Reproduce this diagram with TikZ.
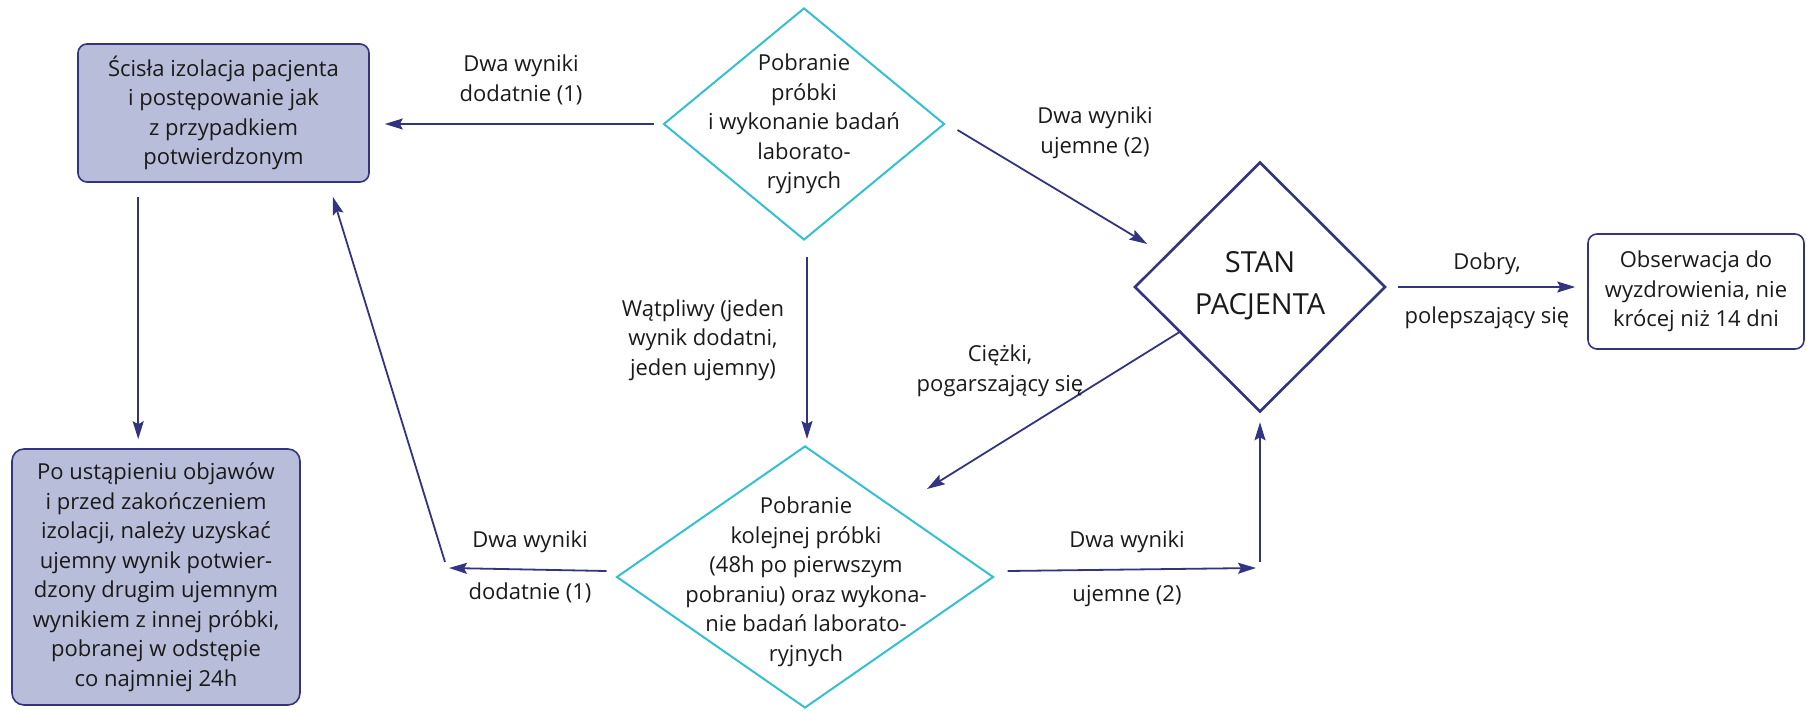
\documentclass[tikz,border=0pt]{standalone}
\usepackage{fontspec}
\setmainfont{Open Sans}
\usetikzlibrary{shapes.geometric,arrows.meta,calc}

\definecolor{navy}{RGB}{50,52,128}
\definecolor{lilac}{RGB}{184,189,217}
\definecolor{turq}{RGB}{52,192,210}
\definecolor{ink}{RGB}{26,26,26}

\tikzset{
  box/.style={draw=navy, line width=1.6pt, rounded corners=9pt, align=center, inner sep=0pt, text=ink},
  dia/.style={diamond, draw=turq, line width=2pt, inner sep=0pt},
  lbl/.style={align=center, text=ink, inner sep=0pt},
  arr/.style={navy, line width=1.8pt, -{Stealth[length=18pt,width=11pt,inset=3pt]}},
}

\begin{document}
\begin{tikzpicture}[x=1pt,y=-1pt,font=\fontsize{22}{29.5}\selectfont]
  \useasboundingbox (0,0) rectangle (1807,711);

  % boxes
  \node[box, fill=lilac, minimum width=291pt, minimum height=138pt] (izol) at (223.5,113)
    {Ścisła izolacja pacjenta\\i postępowanie jak\\z przypadkiem\\potwierdzonym};
  \node[box, fill=lilac, minimum width=288pt, minimum height=256pt, rounded corners=12pt] (koniec) at (156,577)
    {Po ustąpieniu objawów\\i przed zakończeniem\\izolacji, należy uzyskać\\ujemny wynik potwier-\\dzony drugim ujemnym\\wynikiem z innej próbki,\\pobranej w odstępie\\co najmniej 24h};
  \node[box, fill=white, minimum width=216pt, minimum height=115pt] (obs) at (1696,291.5)
    {Obserwacja do\\wyzdrowienia, nie\\krócej niż 14 dni};

  % diamonds
  \node[dia, minimum width=281pt, minimum height=232pt] (test1) at (804,124) {};
  \node[lbl] (test1t) at (test1) {Pobranie\\próbki\\i wykonanie badań\\laborato-\\ryjnych};
  \node[dia, minimum width=377pt, minimum height=262pt] (test2) at (805,577) {};
  \node[lbl] (test2t) at ($(test2)+(1,5)$) {Pobranie\\kolejnej próbki\\(48h po pierwszym\\pobraniu) oraz wykona-\\nie badań laborato-\\ryjnych};
  \node[dia, draw=navy, line width=2.6pt, minimum width=251pt, minimum height=250pt] (stan) at (1260,287) {};
  \node[lbl, font=\fontsize{29}{42}\selectfont] (stant) at ($(stan)+(0,-1)$) {STAN\\PACJENTA};

  % free ends
  \coordinate (lft) at (449,568);
  \coordinate (rgt) at (1256,568);

  % connectors
  \draw[arr] ($(test1.west)+(-9,0)$) -- ($(izol.east |- test1.west)+(15,0)$);
  \draw[arr] ($(test1.east)+(12,6)$) -- ($(stan.west)+(14,-43)$);
  \draw[arr] ($(test1.south)+(3,16)$) -- ($(test2.north)+(2,-6)$);
  \draw[arr] ($(izol.south west)+(61,14)$) -- ($(koniec.north west)+(127,-9)$);
  \draw[arr] ($(test2.west)+(-9,-6)$) -- (lft);
  \draw[arr] ($(lft)+(-4,-6)$) -- ($(izol.south east)+(-37,14)$);
  \draw[arr] ($(test2.east)+(13,-6)$) -- (rgt);
  \draw[arr] ($(rgt)+(4,-6)$) -- ($(stan.south)+(0,9)$);
  \draw[arr] ($(stan.west)+(48,44)$) -- ($(test2.north)+(122,44)$);
  \draw[arr] ($(stan.east)+(11,0)$) -- ($(obs.west |- stan.east)+(-12,0)$);

  % labels
  \node[lbl] (pos1) at (521,80) {Dwa wyniki\\dodatnie (1)};
  \node[lbl] (neg1) at (1095,133) {Dwa wyniki\\ujemne (2)};
  \node[lbl] (unsure) at (703,340) {Wątpliwy (jeden\\wynik dodatni,\\jeden ujemny)};
  \node[lbl] (pos2a) at (530,542) {Dwa wyniki};
  \node[lbl] (pos2b) at (530,593) {dodatnie (1)};
  \node[lbl] (neg2a) at (1127,542) {Dwa wyniki};
  \node[lbl] (neg2b) at (1127,596) {ujemne (2)};
  \node[lbl] (worse) at (1000,371) {Ciężki,\\pogarszający się};
  \node[lbl] (bettera) at (1487,264) {Dobry,};
  \node[lbl] (betterb) at (1487,318) {polepszający się};
\end{tikzpicture}
\end{document}
